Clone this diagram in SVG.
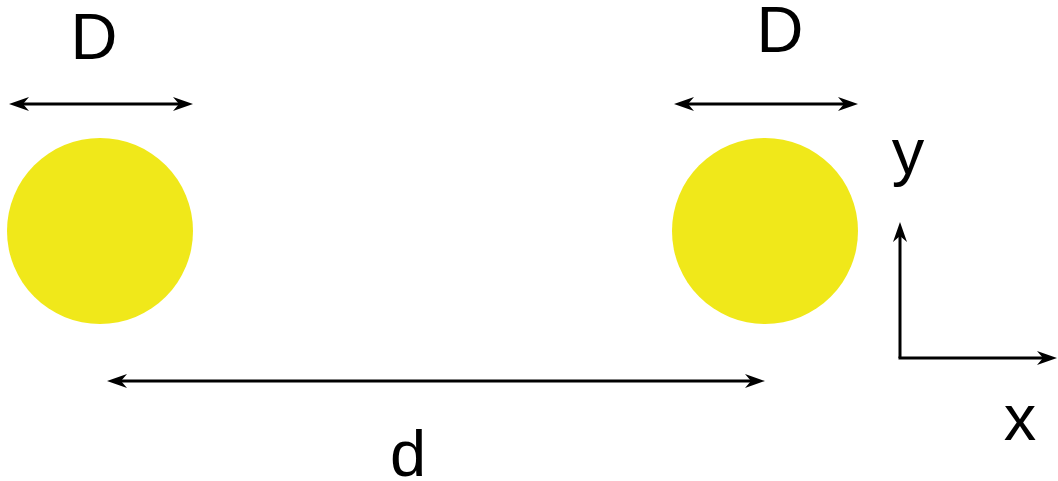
<svg xmlns="http://www.w3.org/2000/svg" width="1058" height="481" viewBox="0 0 1058 481">
<style>
.lbl{font-family:"Liberation Sans",Arial,sans-serif;font-size:65px;fill:#000}
.ln{stroke:#000;stroke-width:3;fill:none}
.blob{fill:#F0E81A}
</style>
<defs>
<marker id="ah" markerUnits="userSpaceOnUse" viewBox="-7 -8 22 16" refX="0" refY="0" markerWidth="22" markerHeight="16" orient="auto-start-reverse">
<path d="M14,0 L-6,-7 L0,0 L-6,7 Z" fill="#000"/>
</marker>
</defs>
<rect width="1058" height="481" fill="#fff"/>
<g id="circle-left"><circle class="blob" cx="100" cy="231" r="93"/></g>
<g id="circle-right"><circle class="blob" cx="765" cy="231" r="93"/></g>
<g id="label-D-left"><text class="lbl" x="94" y="59" text-anchor="middle">D</text></g>
<g id="label-D-right"><text class="lbl" x="780" y="52" text-anchor="middle">D</text></g>
<g id="label-d"><text class="lbl" x="408" y="476" text-anchor="middle">d</text></g>
<g id="label-y"><text class="lbl" x="908" y="174" text-anchor="middle">y</text></g>
<g id="label-x"><text class="lbl" x="1020" y="440" text-anchor="middle">x</text></g>
<g id="connectors">
<line class="ln" x1="23" y1="104" x2="179" y2="104" marker-start="url(#ah)" marker-end="url(#ah)"/>
<line class="ln" x1="688" y1="104" x2="844" y2="104" marker-start="url(#ah)" marker-end="url(#ah)"/>
<line class="ln" x1="121" y1="381" x2="751" y2="381" marker-start="url(#ah)" marker-end="url(#ah)"/>
<line class="ln" x1="900" y1="358" x2="900" y2="236" marker-end="url(#ah)"/>
<line class="ln" x1="898.5" y1="358" x2="1043" y2="358" marker-end="url(#ah)"/>
</g>
</svg>
